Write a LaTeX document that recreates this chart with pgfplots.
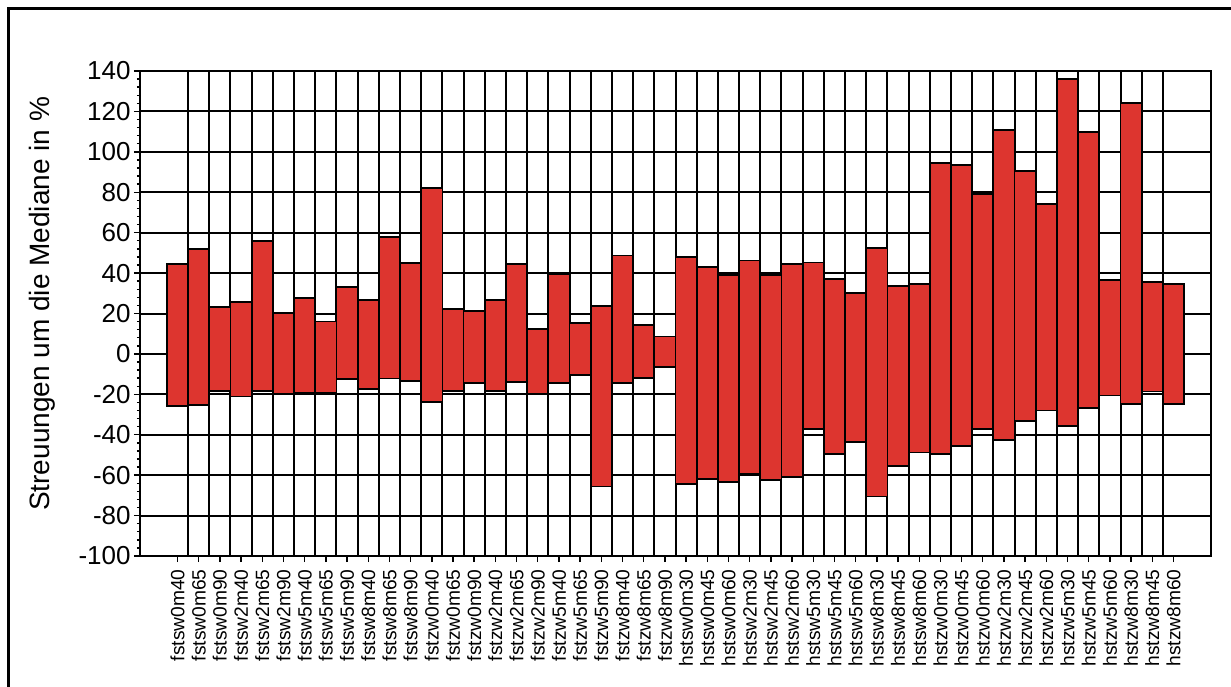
\documentclass[border=0pt]{standalone}
\usepackage{fontspec}
\setmainfont{Liberation Sans}
\usepackage{pgfplots}
\usepackage{pgfplotstable}
\pgfplotsset{compat=1.18}

\definecolor{barred}{RGB}{221,53,47}

% lower and upper end of each bar (percent)
\pgfplotstableread{
x  lo     hi
0  -25.7  44.5
1  -25.2  52.0
2  -18.3  23.4
3  -21.1  25.7
4  -18.3  56.0
5  -20.0  20.1
6  -19.5  27.5
7  -19.5  16.0
8  -12.5  33.3
9  -17.2  26.7
10 -12.2  57.7
11 -13.5  44.9
12 -23.9  82.3
13 -18.3  22.4
14 -14.5  21.4
15 -18.3  26.7
16 -13.7  44.4
17 -20.0  12.4
18 -14.5  39.4
19 -10.4  15.2
20 -65.6  23.9
21 -14.5  48.7
22 -12.0  14.2
23  -6.3   8.6
24 -64.3  47.8
25 -62.0  42.9
26 -63.3  39.1
27 -59.4  46.2
28 -62.3  39.1
29 -61.0  44.4
30 -37.0  45.2
31 -49.5  37.0
32 -43.7  30.3
33 -70.6  52.6
34 -55.3  33.8
35 -48.8  34.5
36 -49.5  94.3
37 -45.4  93.3
38 -37.3  79.2
39 -42.6 110.8
40 -33.0  90.7
41 -28.0  74.0
42 -35.5 135.9
43 -26.6 110.0
44 -20.6  36.6
45 -24.9 124.0
46 -18.6  35.5
47 -24.9  34.6
}\spread

\begin{document}
\begin{tikzpicture}
\useasboundingbox (0,0) rectangle (615.5pt,343pt);
\draw[line width=1.5pt] (4pt,-2pt) -- (4pt,338.5pt) -- (620pt,338.5pt);
\begin{axis}[
  at={(70pt,65pt)}, anchor=south west,
  scale only axis,
  width=535.5pt, height=242.5pt,
  xmin=-1.77, xmax=48.77,
  ymin=-100, ymax=140,
  ybar stacked, stack negative=on previous, bar width=1,
  xtick={0,...,47},
  xticklabels={fstsw0m40,fstsw0m65,fstsw0m90,fstsw2m40,fstsw2m65,fstsw2m90,
    fstsw5m40,fstsw5m65,fstsw5m90,fstsw8m40,fstsw8m65,fstsw8m90,
    fstzw0m40,fstzw0m65,fstzw0m90,fstzw2m40,fstzw2m65,fstzw2m90,
    fstzw5m40,fstzw5m65,fstzw5m90,fstzw8m40,fstzw8m65,fstzw8m90,
    hstsw0m30,hstsw0m45,hstsw0m60,hstsw2m30,hstsw2m45,hstsw2m60,
    hstsw5m30,hstsw5m45,hstsw5m60,hstsw8m30,hstsw8m45,hstsw8m60,
    hstzw0m30,hstzw0m45,hstzw0m60,hstzw2m30,hstzw2m45,hstzw2m60,
    hstzw5m30,hstzw5m45,hstzw5m60,hstzw8m30,hstzw8m45,hstzw8m60},
  minor xtick={0.5,1.5,...,46.5},
  xminorgrids,
  minor x tick style={draw=none},
  ytick={-100,-80,...,140},
  minor y tick num=4,
  ymajorgrids,
  xtick pos=bottom, ytick pos=left,
  tick align=outside,
  major tick length=3pt, minor tick length=1.6pt,
  tick style={black, line width=0.7pt},
  major grid style={black, line width=1pt},
  minor grid style={black, line width=1pt},
  axis line style={black, line width=1pt},
  /pgf/number format/assume math mode=true,
  xticklabel style={rotate=90, anchor=east, inner sep=0pt, xshift=-3.5pt,
    font=\fontsize{9.6}{11}\selectfont},
  yticklabel style={font=\fontsize{13}{15}\selectfont, inner sep=1.5pt},
  ylabel={Streuungen um die Mediane in \%},
  ylabel style={at={(axis description cs:-0.091,0.52)}, anchor=center,
    font=\fontsize{14}{16}\selectfont},
]
\addplot[draw=none, fill=none] table[x=x, y=lo] {\spread};
\addplot[draw=black, line width=0.9pt, fill=barred]
  table[x=x, y expr=\thisrow{hi}-\thisrow{lo}] {\spread};
\end{axis}
\end{tikzpicture}
\end{document}
